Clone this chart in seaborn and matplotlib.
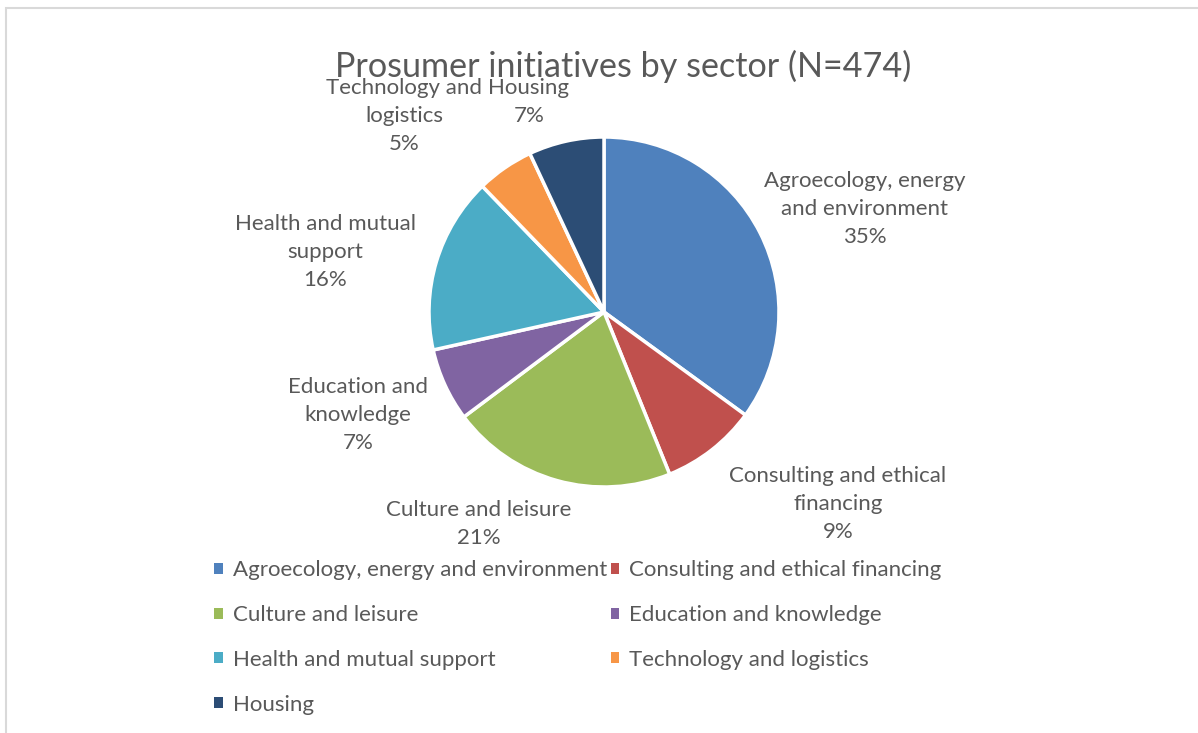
import matplotlib
matplotlib.use("Agg")
import matplotlib.pyplot as plt
from matplotlib.patches import Patch, Rectangle
import seaborn as sns

# Prosumer initiatives per sector (N=474)
sectors = [
    "Agroecology, energy and environment",
    "Consulting and ethical financing",
    "Culture and leisure",
    "Education and knowledge",
    "Health and mutual support",
    "Technology and logistics",
    "Housing",
]
counts = [166, 42, 99, 32, 77, 25, 33]
label_lines = [
    "Agroecology, energy\nand environment",
    "Consulting and ethical\nfinancing",
    "Culture and leisure",
    "Education and\nknowledge",
    "Health and mutual\nsupport",
    "Technology and\nlogistics",
    "Housing",
]
colors = ["#4F81BD", "#C0504D", "#9BBB59", "#8064A2", "#4BACC6", "#F79646", "#2C4D75"]

# data-label anchor points, in units of the pie radius
label_xy = [(1.49, 0.59), (1.337, -1.095), (-0.714, -1.211), (-1.406, -0.589),
            (-1.594, 0.343), (-1.14, 1.12), (-0.43, 1.20)]

sns.set_theme(style="white")
plt.rcParams["font.family"] = ["Lato", "DejaVu Sans"]
text_color = "#595959"
palette = sns.color_palette(colors)

W, H = 1198, 733
fig = plt.figure(figsize=(W / 100, H / 100), dpi=100)
fig.patch.set_facecolor("white")

# light chart-area frame
fig.patches.append(Rectangle((6 / W, -0.05), 1.2, 1 - 8 / H + 0.05, transform=fig.transFigure,
                             fill=False, edgecolor="#D9D9D9", linewidth=1.5))

cx, cy, r = 604, 312, 175
ax = fig.add_axes([(cx - r) / W, (H - cy - r) / H, 2 * r / W, 2 * r / H])
ax.pie(counts, colors=palette, startangle=90, counterclock=False, radius=1,
       wedgeprops=dict(edgecolor="white", linewidth=2.5))
ax.set_xlim(-1, 1)
ax.set_ylim(-1, 1)
ax.set_aspect("equal")
ax.axis("off")

total = sum(counts)
for (x, y), txt, c in zip(label_xy, label_lines, counts):
    pct = round(100 * c / total)
    ax.text(x, y, f"{txt}\n{pct}%", ha="center", va="center", fontsize=16,
            color=text_color, linespacing=1.5, clip_on=False)

fig.text(623 / W, 1 - 66 / H, "Prosumer initiatives by sector (N=474)", ha="center",
         va="center", fontsize=24.6, color=text_color)

order = [0, 2, 4, 6, 1, 3, 5]
handles = [Patch(facecolor=colors[i], edgecolor="none") for i in order]
labels = [sectors[i] for i in order]
fig.legend(handles, labels, loc="upper left", bbox_to_anchor=(203 / W, 1 - 549 / H),
           ncol=2, frameon=False, fontsize=16, labelcolor=text_color,
           handlelength=0.38, handleheight=0.38, handletextpad=0.45,
           columnspacing=0.18, labelspacing=1.12, borderpad=0)

fig.savefig("out.png", dpi=100, facecolor="white")
